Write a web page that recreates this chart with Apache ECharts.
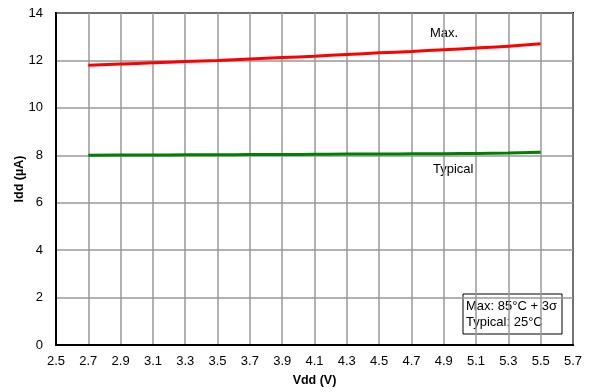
<!DOCTYPE html>
<html><head><meta charset="utf-8">
<script src="https://cdn.jsdelivr.net/npm/echarts@6/dist/echarts.min.js"></script>
<style>html,body{margin:0;padding:0;background:#fff}#c{width:590px;height:392px}</style>
</head><body><div id="c"></div>
<script>
const vdd = [2.7, 2.9, 3.1, 3.3, 3.5, 3.7, 3.9, 4.1, 4.3, 4.5, 4.7, 4.9, 5.1, 5.3, 5.5];
const maxIdd = [11.8, 11.85, 11.9, 11.95, 12.0, 12.06, 12.12, 12.18, 12.25, 12.32, 12.38, 12.45, 12.52, 12.6, 12.7];
const typIdd = [8.0, 8.01, 8.01, 8.02, 8.02, 8.03, 8.03, 8.04, 8.05, 8.05, 8.06, 8.07, 8.08, 8.1, 8.13];
const xName = 'Vdd (V)';
const yName = 'Idd (µA)';
const legendText = 'Max: 85°C + 3σ\nTypical: 25°C';

const chart = echarts.init(document.getElementById('c'));
const font = 'Liberation Sans, Arial, sans-serif';
chart.setOption({
  animation: false,
  grid: {left: 56, right: 17, top: 13, bottom: 46, show: true, borderColor: '#000', borderWidth: 2},
  xAxis: {
    type: 'value', min: 2.5, max: 5.7, interval: 0.2,
    name: xName, nameLocation: 'middle', nameGap: 29, nameMoveOverlap: false,
    nameTextStyle: {fontFamily: font, fontSize: 12.5, fontWeight: 'bold', color: '#000'},
    axisLine: {show: true, lineStyle: {color: '#000', width: 2}},
    axisTick: {show: false},
    axisLabel: {fontFamily: font, fontSize: 13, color: '#000', margin: 10, formatter: v => v.toFixed(1)},
    splitLine: {show: true, lineStyle: {color: '#999', width: 1.5}}
  },
  yAxis: {
    type: 'value', min: 0, max: 14, interval: 2,
    name: yName, nameLocation: 'middle', nameGap: 30, nameMoveOverlap: false,
    nameTextStyle: {fontFamily: font, fontSize: 12.5, fontWeight: 'bold', color: '#000'},
    axisLine: {show: true, lineStyle: {color: '#000', width: 2}},
    axisTick: {show: false},
    axisLabel: {fontFamily: font, fontSize: 13, color: '#000', margin: 13},
    splitLine: {show: true, lineStyle: {color: '#999', width: 1.5}}
  },
  series: [
    {type: 'line', name: 'Max.', data: vdd.map((x, i) => [x, maxIdd[i]]), smooth: true, showSymbol: false,
     lineStyle: {color: '#ff0000', width: 3}},
    {type: 'line', name: 'Typical', data: vdd.map((x, i) => [x, typIdd[i]]), smooth: true, showSymbol: false,
     lineStyle: {color: '#008000', width: 3}}
  ],
  graphic: [
    {type: 'text', left: 430, top: 27, style: {text: 'Max.', font: '13px ' + font, fill: '#000'}},
    {type: 'text', left: 433, top: 163, style: {text: 'Typical', font: '13px ' + font, fill: '#000'}},
    {type: 'rect', shape: {x: 463, y: 294, width: 99, height: 40}, style: {fill: '#fff', stroke: '#000', lineWidth: 1}},
    {type: 'text', left: 466, top: 298, style: {text: legendText, font: '13px ' + font, fill: '#000', lineHeight: 16}}
  ]
});
</script></body></html>
